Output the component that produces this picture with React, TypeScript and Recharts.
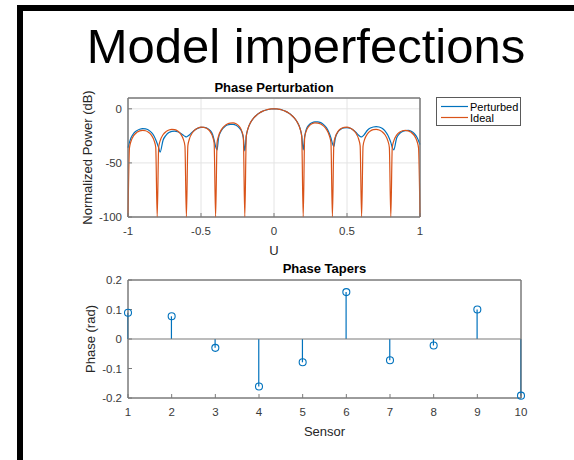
import {
  LineChart,
  Line,
  ComposedChart,
  Bar,
  XAxis,
  YAxis,
  CartesianGrid,
  ReferenceLine,
  ReferenceArea,
} from "recharts";

// beam pattern sample points (U) and levels in dB
const uValues = [
  -1, -0.99, -0.98, -0.96, -0.94, -0.92, -0.9, -0.88, -0.86, -0.84,
  -0.82, -0.81, -0.8, -0.79, -0.78, -0.76, -0.74, -0.72, -0.7, -0.68,
  -0.66, -0.64, -0.62, -0.61, -0.6, -0.59, -0.58, -0.56, -0.54, -0.52,
  -0.5, -0.48, -0.46, -0.44, -0.42, -0.41, -0.4, -0.39, -0.38, -0.36,
  -0.34, -0.32, -0.3, -0.28, -0.26, -0.24, -0.22, -0.21, -0.2, -0.19,
  -0.18, -0.16, -0.14, -0.12, -0.1, -0.08, -0.06, -0.04, -0.02, 0,
  0.02, 0.04, 0.06, 0.08, 0.1, 0.12, 0.14, 0.16, 0.18, 0.19,
  0.2, 0.21, 0.22, 0.24, 0.26, 0.28, 0.3, 0.32, 0.34, 0.36,
  0.38, 0.39, 0.4, 0.41, 0.42, 0.44, 0.46, 0.48, 0.5, 0.52,
  0.54, 0.56, 0.58, 0.59, 0.6, 0.61, 0.62, 0.64, 0.66, 0.68,
  0.7, 0.72, 0.74, 0.76, 0.78, 0.79, 0.8, 0.81, 0.82, 0.84,
  0.86, 0.88, 0.9, 0.92, 0.94, 0.96, 0.98, 0.99, 1,
];

const perturbedDb = [
  -36, -31, -27, -22.5, -20.2, -18.9, -18.4, -18.6, -19.6, -21.8,
  -25.5, -28.5, -32, -36, -40, -29, -24.5, -22, -20.8, -20.6,
  -21.2, -22.6, -24.5, -25.4, -26, -25.2, -24.2, -21.5, -19.3, -17.9,
  -17.2, -17.1, -17.8, -19.6, -24, -29, -35, -38, -27, -20,
  -16.8, -15, -14.3, -14.3, -15.2, -17.3, -21.5, -27, -39, -25,
  -19, -12.4, -8.6, -5.9, -3.9, -2.4, -1.3, -0.6, -0.15, 0,
  -0.15, -0.57, -1.3, -2.4, -3.9, -5.9, -8.6, -12.5, -18.8, -25,
  -38, -26, -19.5, -14.8, -12.8, -12, -12, -12.8, -14.6, -17.6,
  -23, -27, -32, -35, -27, -21, -18.6, -17.6, -17.4, -17.9,
  -19.3, -21.6, -24.5, -25.5, -26, -25, -23.5, -19.8, -17.8, -16.8,
  -16.5, -16.8, -18, -20.3, -24.5, -27.5, -31, -35.5, -38, -27,
  -23, -21, -20.1, -20, -20.8, -22.8, -26.5, -29.5, -33,
];

const idealDb = [
  -100, -36.11, -30.2, -24.6, -21.8, -20.37, -19.89, -20.28, -21.63, -24.34,
  -29.85, -35.72, -100, -35.64, -29.67, -23.98, -21.1, -19.57, -19, -19.29,
  -20.54, -23.15, -28.55, -34.37, -100, -34.17, -28.15, -22.35, -19.34, -17.69,
  -16.99, -17.14, -18.25, -20.7, -25.95, -31.69, -100, -31.31, -25.2, -19.2,
  -15.98, -14.09, -13.14, -13.02, -13.82, -15.94, -20.8, -26.32, -100, -25.48,
  -19.11, -12.53, -8.62, -5.89, -3.89, -2.4, -1.31, -0.57, -0.14, 0,
  -0.14, -0.57, -1.31, -2.4, -3.89, -5.89, -8.62, -12.53, -19.11, -25.48,
  -100, -26.32, -20.8, -15.94, -13.82, -13.02, -13.14, -14.09, -15.98, -19.2,
  -25.2, -31.31, -100, -31.69, -25.95, -20.7, -18.25, -17.14, -16.99, -17.69,
  -19.34, -22.35, -28.15, -34.17, -100, -34.37, -28.55, -23.15, -20.54, -19.29,
  -19, -19.57, -21.1, -23.98, -29.67, -35.64, -100, -35.72, -29.85, -24.34,
  -21.63, -20.28, -19.89, -20.37, -21.8, -24.6, -30.2, -36.11, -100,
];

const sensors = [1, 2, 3, 4, 5, 6, 7, 8, 9, 10];
const phaseTapers = [0.089, 0.077, -0.03, -0.161, -0.079, 0.159, -0.072, -0.022, 0.1, -0.192];

const uTicks = [-1, -0.5, 0, 0.5, 1];
const dbTicks = [-100, -50, 0];
const phaseTicks = [-0.2, -0.1, 0, 0.1, 0.2];

const BLUE = "#0072BD";
const ORANGE = "#D95319";
const AXIS = "#7a7a7a";
const TEXT = "#3a3a3a";
const FONT = '"Liberation Sans", Arial, sans-serif';

const tickStyle = { fill: TEXT, fontSize: 11.5, fontFamily: FONT };
const labelStyle = { fill: "#262626", fontSize: 13, fontFamily: FONT, textAnchor: "middle" as const };
const axisLine = { stroke: AXIS, strokeWidth: 1 };
const tickLine = { stroke: AXIS, strokeWidth: 1 };

const patternData = uValues.map((u, i) => ({ u, perturbed: perturbedDb[i], ideal: idealDb[i] }));
const taperData = sensors.map((s, i) => ({ sensor: s, phase: phaseTapers[i] }));

function PatternChart() {
  return (
    <LineChart width={370} height={180} data={patternData} margin={{ top: 17, right: 9, bottom: 0, left: 0 }}>
      <CartesianGrid stroke="#e4e4e4" />
      <ReferenceArea x1={-1} x2={1} y1={-100} y2={10} fill="none" stroke={AXIS} strokeWidth={1} />
      <XAxis
        dataKey="u"
        type="number"
        domain={[-1, 1]}
        ticks={uTicks}
        height={43}
        axisLine={axisLine}
        tickLine={tickLine}
        tickSize={-4}
        tickMargin={14}
        tick={tickStyle}
        label={{ value: "U", position: "insideBottom", offset: 5, style: labelStyle }}
      />
      <XAxis
        xAxisId="top"
        orientation="top"
        dataKey="u"
        type="number"
        domain={[-1, 1]}
        ticks={uTicks}
        height={1}
        axisLine={axisLine}
        tickLine={tickLine}
        tickSize={-4}
        tick={false}
      />
      <YAxis
        type="number"
        domain={[-100, 10]}
        ticks={dbTicks}
        width={68}
        axisLine={axisLine}
        tickLine={tickLine}
        tickSize={-4}
        tickMargin={10}
        tick={tickStyle}
        label={{ value: "Normalized Power (dB)", angle: -90, position: "insideLeft", offset: 27, style: labelStyle }}
      />
      <YAxis
        yAxisId="right"
        orientation="right"
        type="number"
        domain={[-100, 10]}
        ticks={dbTicks}
        width={1}
        axisLine={axisLine}
        tickLine={tickLine}
        tickSize={-4}
        tick={false}
      />
      <Line dataKey="perturbed" type="monotone" stroke={BLUE} strokeWidth={1.2} dot={false} activeDot={false} isAnimationActive={false} />
      <Line dataKey="ideal" type="monotone" stroke={ORANGE} strokeWidth={1.2} dot={false} activeDot={false} isAnimationActive={false} />
    </LineChart>
  );
}

function TaperChart() {
  return (
    <ComposedChart width={470} height={185} data={taperData} margin={{ top: 14, right: 8, bottom: 0, left: 0 }}>
      <ReferenceArea x1={1} x2={10} y1={-0.2} y2={0.2} fill="none" stroke={AXIS} strokeWidth={1} />
      <XAxis
        dataKey="sensor"
        type="number"
        domain={[1, 10]}
        ticks={sensors}
        height={52}
        axisLine={axisLine}
        tickLine={tickLine}
        tickSize={-4}
        tickMargin={14}
        tick={tickStyle}
        label={{ value: "Sensor", position: "insideBottom", offset: 14, style: labelStyle }}
      />
      <XAxis
        xAxisId="top"
        orientation="top"
        dataKey="sensor"
        type="number"
        domain={[1, 10]}
        ticks={sensors}
        height={1}
        axisLine={axisLine}
        tickLine={tickLine}
        tickSize={-4}
        tick={false}
      />
      <YAxis
        type="number"
        domain={[-0.2, 0.2]}
        ticks={phaseTicks}
        width={68}
        axisLine={axisLine}
        tickLine={tickLine}
        tickSize={-4}
        tickMargin={10}
        tick={tickStyle}
        label={{ value: "Phase (rad)", angle: -90, position: "insideLeft", offset: 30, style: labelStyle }}
      />
      <YAxis
        yAxisId="right"
        orientation="right"
        type="number"
        domain={[-0.2, 0.2]}
        ticks={phaseTicks}
        width={1}
        axisLine={axisLine}
        tickLine={tickLine}
        tickSize={-4}
        tick={false}
      />
      <ReferenceLine y={0} stroke={AXIS} strokeWidth={1.2} />
      <Bar dataKey="phase" barSize={1.2} fill={BLUE} isAnimationActive={false} />
      <Line
        dataKey="phase"
        stroke="none"
        dot={{ r: 3.5, fill: "none", stroke: BLUE, strokeWidth: 1.1 }}
        activeDot={false}
        isAnimationActive={false}
      />
    </ComposedChart>
  );
}

export default function App() {
  return (
    <div
      style={{
        position: "fixed",
        left: 0,
        top: 0,
        width: 574,
        height: 460,
        overflow: "hidden",
        background: "#fff",
        fontFamily: FONT,
      }}
    >
      <div
        style={{
          position: "absolute",
          left: 17,
          top: 5,
          width: 620,
          height: 520,
          borderLeft: "6px solid #000",
          borderTop: "6px solid #000",
        }}
      />
      <div style={{ position: "absolute", left: 60, top: 80 }}>
        <PatternChart />
      </div>
      <div style={{ position: "absolute", left: 60, top: 265 }}>
        <TaperChart />
      </div>
      <svg width={574} height={460} style={{ position: "absolute", left: 0, top: 0, pointerEvents: "none" }}>
        <text x={306} y={63} textAnchor="middle" fontSize={49} fontFamily={FONT} fill="#000">
          Model imperfections
        </text>
        <text x={274} y={92} textAnchor="middle" fontSize={13} fontWeight="bold" fontFamily={FONT} fill="#000">
          Phase Perturbation
        </text>
        <text x={324.5} y={273} textAnchor="middle" fontSize={13} fontWeight="bold" fontFamily={FONT} fill="#000">
          Phase Tapers
        </text>
        <g fontFamily={FONT} fontSize={11} fill="#000">
          <rect x={436.5} y={97.5} width={84} height={28} fill="#fff" stroke="#5a5a5a" />
          <line x1={441} y1={106.5} x2={468} y2={106.5} stroke={BLUE} strokeWidth={1.2} />
          <text x={470} y={110.5}>Perturbed</text>
          <line x1={441} y1={117.5} x2={468} y2={117.5} stroke={ORANGE} strokeWidth={1.2} />
          <text x={470} y={121.5}>Ideal</text>
        </g>
      </svg>
    </div>
  );
}
